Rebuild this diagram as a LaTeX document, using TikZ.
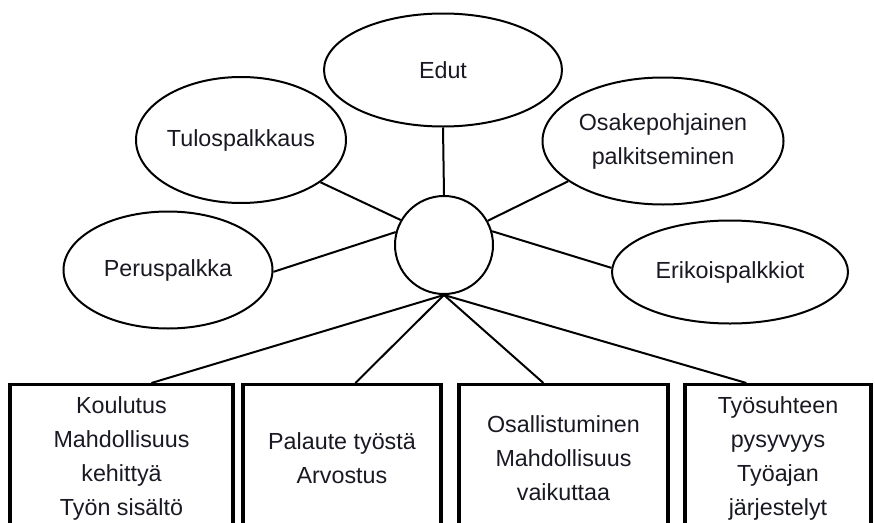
\documentclass[tikz,border=0pt]{standalone}
\usepackage{fontspec}
\setmainfont{Liberation Sans}
\usetikzlibrary{shapes.geometric}
\definecolor{txt}{RGB}{25,25,35}
\tikzset{
  oval/.style={ellipse, draw, line width=2pt, inner sep=0pt, align=center, text=txt},
  hub/.style={circle, draw, line width=2pt, inner sep=0pt, minimum size=98pt},
  bbox/.style={rectangle, draw, line width=3.2pt, inner sep=0pt, align=center, text=txt,
    minimum height=148pt, anchor=north},
  link/.style={line width=2pt}
}
\begin{document}
\begin{tikzpicture}[x=1pt,y=-1pt,font=\fontsize{23.3}{34}\selectfont]
\useasboundingbox (0,0) rectangle (875,522);
\clip (0,0) rectangle (875,522);
\node[hub] (c) at (444,245) {};
\node[oval, minimum width=238pt, minimum height=113pt] (edut) at (443,70) {Edut};
\node[oval, minimum width=210pt, minimum height=126pt] (tulo) at (241,140) {Tulospalkkaus};
\node[oval, minimum width=241pt, minimum height=127pt] (osake) at (663,141) {Osakepohjainen\\palkitseminen};
\node[oval, minimum width=209pt, minimum height=117pt] (peru) at (168,270) {Peruspalkka};
\node[oval, minimum width=236pt, minimum height=103pt] (erik) at (730,272) {Erikoispalkkiot};

\node[bbox, minimum width=223pt] (b1) at (121.5,383) {Koulutus\\Mahdollisuus\\kehittyä\\Työn sisältö};
\node[bbox, minimum width=198pt] (b2) at (342,383) {Palaute työstä\\Arvostus};
\node[bbox, minimum width=209pt] (b3) at (563.5,383) {Osallistuminen\\Mahdollisuus\\vaikuttaa};
\node[bbox, minimum width=186pt] (b4) at (778,383) {Työsuhteen\\pysyvyys\\Työajan\\järjestelyt};

\draw[link] (c.north) -- (edut.south);
\draw[link] (c.150) -- (tulo.-28);
\draw[link] (c.165) -- (peru.-1);
\draw[link] (c.29) -- (osake.203);
\draw[link] (c.16) -- (erik.178);

\coordinate (t1) at ([xshift=143pt]b1.north west);
\coordinate (t2) at ([xshift=114pt]b2.north west);
\coordinate (t3) at ([xshift=86pt]b3.north west);
\coordinate (t4) at ([xshift=63pt]b4.north west);
\draw[link] (c.south) -- (t1);
\draw[link] (c.south) -- (t2);
\draw[link] (c.south) -- (t3);
\draw[link] (c.south) -- (t4);
\end{tikzpicture}
\end{document}
